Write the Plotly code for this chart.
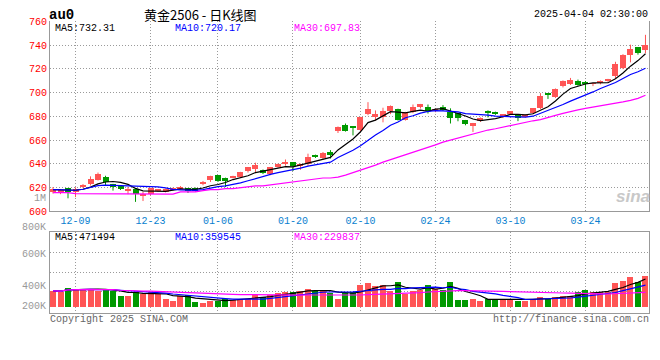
import plotly.graph_objects as go
import pandas as pd

# ---------------- data ----------------
holidays = ["2025-01-01", "2025-01-28", "2025-01-29", "2025-01-30",
            "2025-01-31", "2025-02-03", "2025-02-04"]
trade_days = [d for d in pd.bdate_range("2024-12-04", "2025-04-03")
              if d.strftime("%Y-%m-%d") not in holidays]
dates = [d.strftime("%m-%d") for d in trade_days]

opens = [615.8, 615.5, 619.0, 616.4, 620.0, 622.4, 626.5, 628.7, 622.6, 621.0,
         617.0, 618.3, 612.3, 614.2, 617.0, 616.4, 618.0, 618.8, 619.0, 619.6,
         622.6, 626.0, 630.0, 627.8, 628.4, 628.7, 633.3, 635.5, 634.7, 631.4,
         637.4, 639.6, 640.9, 638.2, 639.6, 647.2, 644.2, 649.7, 667.4, 672.3,
         671.0, 668.2, 681.3, 679.1, 679.1, 684.6, 686.0, 677.0, 683.2, 687.3,
         687.9, 684.0, 687.9, 683.2, 682.4, 676.4, 671.5, 675.9, 684.6, 683.2,
         679.1, 681.9, 681.0, 679.7, 682.4, 686.8, 698.8, 696.0, 705.0, 707.0,
         709.7, 708.3, 707.0, 707.5, 709.7, 714.0, 720.6, 731.5, 737.8, 735.6]
closes = [618.3, 618.0, 616.4, 618.5, 622.0, 627.3, 631.4, 624.6, 620.5, 618.6,
          618.5, 614.5, 614.5, 619.0, 617.7, 618.5, 619.6, 620.0, 617.0, 617.2,
          624.5, 629.2, 625.4, 625.4, 629.5, 632.7, 636.8, 639.0, 632.2, 636.8,
          639.6, 640.5, 638.2, 639.6, 645.8, 645.6, 649.1, 647.2, 671.0, 667.7,
          670.1, 679.1, 686.0, 681.3, 684.6, 688.7, 677.0, 683.2, 687.3, 690.0,
          684.0, 686.0, 685.1, 678.6, 678.6, 673.1, 673.7, 678.6, 683.0, 681.9,
          681.3, 683.8, 678.6, 681.0, 686.5, 696.9, 697.7, 702.9, 709.7, 710.5,
          706.4, 707.0, 707.5, 709.7, 711.0, 723.4, 731.0, 736.4, 733.2, 739.7]
highs = [620.5, 618.8, 619.6, 620.3, 623.0, 629.5, 632.7, 630.0, 623.2, 622.0,
         620.5, 619.0, 616.4, 619.6, 618.5, 619.2, 620.0, 621.3, 619.6, 620.0,
         625.6, 630.0, 630.5, 628.4, 630.0, 633.3, 637.4, 641.0, 635.3, 637.4,
         640.2, 643.7, 641.4, 640.2, 648.6, 647.8, 650.0, 651.6, 671.5, 674.0,
         671.5, 679.6, 692.0, 685.0, 687.3, 689.2, 686.5, 683.8, 690.0, 690.5,
         690.0, 686.6, 689.5, 686.8, 683.0, 677.0, 674.5, 679.1, 685.1, 684.0,
         682.0, 684.3, 681.6, 681.6, 687.0, 699.6, 699.4, 703.5, 710.3, 712.4,
         711.0, 709.7, 708.0, 710.3, 711.6, 726.0, 732.4, 740.4, 738.3, 748.7]
lows = [615.0, 614.5, 611.0, 612.0, 619.5, 621.8, 626.0, 622.0, 617.5, 618.0,
        614.5, 608.0, 608.7, 613.5, 616.4, 616.0, 617.5, 618.3, 615.5, 616.7,
        622.0, 624.8, 624.8, 620.5, 627.8, 628.2, 632.7, 632.2, 631.4, 630.5,
        636.8, 638.5, 634.0, 635.0, 638.4, 645.0, 643.5, 644.5, 666.0, 667.2,
        664.0, 667.2, 681.0, 676.4, 675.0, 681.9, 676.5, 676.5, 682.7, 686.6,
        682.4, 683.5, 684.6, 674.0, 675.9, 672.5, 666.9, 675.3, 679.1, 681.3,
        678.6, 681.3, 676.0, 679.1, 681.9, 686.2, 694.7, 695.5, 704.4, 706.4,
        705.8, 701.7, 705.5, 707.0, 709.1, 711.5, 719.8, 725.5, 732.0, 733.2]
volumes = [271200, 259900, 327700, 310750, 288150, 310750, 271200, 310750, 271200, 186450,
           186450, 254250, 226000, 254250, 226000, 135600, 101700, 180800, 209050, 90400,
           73450, 101700, 101700, 141250, 118650, 129950, 141250, 203400, 169500, 203400,
           242950, 259900, 259900, 271200, 310750, 271200, 271200, 242950, 141250, 242950,
           254250, 372900, 423750, 355950, 372900, 271200, 440700, 226000, 271200, 299450,
           389850, 316400, 299450, 440700, 118650, 118650, 141250, 101700, 129950, 118650,
           118650, 141250, 101700, 101700, 141250, 169500, 141250, 169500, 186450, 186450,
           259900, 288150, 254250, 254250, 254250, 423750, 457650, 514150, 440700, 542400]
ma30_price = [615.8, 615.8, 615.8, 615.0, 615.0, 615.0, 615.0, 615.0, 614.5, 614.5,
              614.5, 614.5, 614.5, 614.5, 614.5, 614.5, 614.5, 616.4, 616.4, 616.4,
              617.5, 618.3, 618.3, 619.1, 619.1, 619.9, 620.7, 621.5, 621.5, 622.3,
              623.2, 624.0, 624.8, 625.6, 626.4, 627.3, 628.1, 628.1, 628.9, 630.5,
              632.5, 634.5, 636.5, 639.0, 641.5, 643.5, 645.8, 648.0, 649.7, 652.0,
              654.0, 656.0, 658.3, 660.0, 661.8, 663.5, 665.4, 667.0, 668.5, 669.6,
              671.0, 672.3, 674.0, 675.3, 676.3, 677.3, 678.8, 680.8, 682.6, 684.2,
              685.5, 686.7, 687.7, 688.7, 689.7, 691.0, 692.2, 693.5, 695.2, 697.8]

tick_labels = ["12-09", "12-23", "01-06", "01-20", "02-10", "02-24", "03-10", "03-24"]
price_ticks = [600, 620, 640, 660, 680, 700, 720, 740, 760]
vol_grid = [259335, 598335, 937335]
vol_labels = ["800K", "600K", "400K", "200K"]

title_text = "黄金2506 - 日K线图"
code_text = "au0"
time_text = "2025-04-04 02:30:00"
price_ma_labels = ["MA5:732.31", "MA10:720.17", "MA30:697.83"]
vol_ma_labels = ["MA5:471494", "MA10:359545", "MA30:229837"]

# ---------------- styling ----------------
W, H = 660, 360
RED = "#FF5555"
GREEN = "#009900"
MONO = "Liberation Mono, DejaVu Sans Mono, monospace"
GRID = "#9a9a9a"
AXIS = "#999999"


def px(x):
    return x / W


def py(y):
    return 1 - y / H


idx = list(range(len(dates)))
close_s = pd.Series(closes)
vol_s = pd.Series(volumes)
ma5 = close_s.rolling(5, min_periods=1).mean()
ma10 = close_s.rolling(10, min_periods=1).mean()
vma5 = vol_s.rolling(5, min_periods=1).mean()
vma10 = vol_s.rolling(10, min_periods=1).mean()
vma30 = vol_s.rolling(30, min_periods=1).mean()

fig = go.Figure()

# wicks
for col, up in ((RED, True), (GREEN, False)):
    wx, wy = [], []
    for i in idx:
        if (closes[i] >= opens[i]) == up:
            wx += [i, i, None]
            wy += [lows[i], highs[i], None]
    fig.add_trace(go.Scatter(x=wx, y=wy, mode="lines", line=dict(color=col, width=1),
                             hoverinfo="skip", showlegend=False, xaxis="x", yaxis="y"))

# bodies
for col, up in ((RED, True), (GREEN, False)):
    bx, bb, bh = [], [], []
    for i in idx:
        if (closes[i] >= opens[i]) == up:
            lo = min(opens[i], closes[i])
            hgt = max(abs(closes[i] - opens[i]), 0.5)
            bx.append(i); bb.append(lo); bh.append(hgt)
    fig.add_trace(go.Bar(x=bx, y=bh, base=bb, width=0.8, marker=dict(color=col, line=dict(width=0)),
                         showlegend=False, xaxis="x", yaxis="y"))

# price MAs
for ser, col in ((ma5, "#000000"), (ma10, "#0000FF"), (ma30_price, "#FF00FF")):
    fig.add_trace(go.Scatter(x=idx, y=list(ser), mode="lines", line=dict(color=col, width=1.2),
                             showlegend=False, xaxis="x", yaxis="y"))

# volume bars
vcol = [RED if closes[i] >= opens[i] else GREEN for i in idx]
fig.add_trace(go.Bar(x=idx, y=volumes, width=0.8, marker=dict(color=vcol, line=dict(width=0)),
                     showlegend=False, xaxis="x2", yaxis="y2"))
for ser, col in ((vma5, "#000000"), (vma10, "#0000FF"), (vma30, "#FF00FF")):
    fig.add_trace(go.Scatter(x=idx, y=list(ser), mode="lines", line=dict(color=col, width=1.2),
                             showlegend=False, xaxis="x2", yaxis="y2"))

tickvals = [dates.index(t) for t in tick_labels]

xdom = [px(50), px(649)]
xr = [-0.4, 79.47]

fig.update_layout(
    width=W, height=H, margin=dict(l=0, r=0, t=0, b=0),
    paper_bgcolor="white", plot_bgcolor="white", barmode="overlay", bargap=0,
    showlegend=False,
    xaxis=dict(domain=xdom, range=xr, anchor="y", tickvals=tickvals, ticktext=tick_labels,
               tickfont=dict(family=MONO, size=10, color="#0A7FD0"), ticks="",
               showgrid=True, gridcolor=GRID, griddash="1px,2px", gridwidth=1,
               showline=True, linecolor=AXIS, linewidth=1, zeroline=False, fixedrange=True),
    yaxis=dict(domain=[py(213.3), py(17.9)], range=[600, 760], anchor="x",
               tickvals=price_ticks, ticktext=[str(v) for v in price_ticks],
               tickfont=dict(family=MONO, size=10, color="#FF0000"), ticks="",
               showgrid=True, gridcolor=GRID, griddash="1px,2px", gridwidth=1,
               showline=True, linecolor=AXIS, linewidth=1, mirror=True, zeroline=False),
    xaxis2=dict(domain=xdom, range=xr, anchor="y2", tickvals=tickvals, showticklabels=False, ticks="",
                showgrid=True, gridcolor=GRID, griddash="1px,2px", gridwidth=1,
                showline=True, linecolor=AXIS, linewidth=1, mirror=True, zeroline=False),
    yaxis2=dict(domain=[py(318), py(234)], range=[-118650, 1305150], anchor="x2",
                tickvals=vol_grid, showticklabels=False, ticks="",
                showgrid=True, gridcolor=GRID, griddash="1px,2px", gridwidth=1,
                showline=True, linecolor=AXIS, linewidth=1, mirror=True, zeroline=False),
)

anns = []


def ann(text, x, y, color, size=10, xanchor="left", family=MONO):
    anns.append(dict(text=text, x=px(x), y=py(y), xref="paper", yref="paper",
                     xanchor=xanchor, yanchor="middle", showarrow=False,
                     font=dict(family=family, size=size, color=color)))


ann("<b>" + code_text + "</b>", 47, 11, "#000000", size=14)
ann(title_text, 200, 11, "#000000", size=13, xanchor="center",
    family="Noto Sans CJK SC, sans-serif")
ann(time_text, 650, 11, "#000000", xanchor="right")
for txt, x, col in zip(price_ma_labels, (53, 173, 292), ("#000000", "#0000FF", "#FF00FF")):
    ann(txt, x, 25, col)
for txt, x, col in zip(vol_ma_labels, (53, 173, 292), ("#000000", "#0000FF", "#FF00FF")):
    ann(txt, x, 240, col)
ann("1M", 48, 200, "#999999", xanchor="right")
for txt, y in zip(vol_labels, (230, 258, 291, 311)):
    ann(txt, 48, y, "#999999", xanchor="right")
ann("Copyright 2025 SINA.COM", 48, 324, "#666666")
ann("http://finance.sina.com.cn", 651, 324, "#666666", xanchor="right")
ann("<i><b>sina</b></i>", 633, 198, "#C8C8C8", size=17, xanchor="center",
    family="Liberation Sans, Arial, sans-serif")
fig.update_layout(annotations=anns)

fig.write_html("out.html", config={"displayModeBar": False},
               post_script="document.body.style.margin='0px';")
